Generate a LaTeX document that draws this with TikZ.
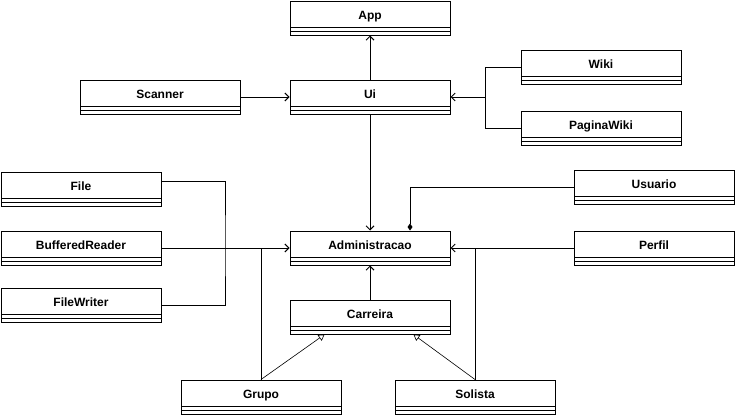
\documentclass[tikz,border=0pt]{standalone}
\usepackage{fontspec}
\setmainfont{Liberation Sans}
\usetikzlibrary{arrows.meta}

\begin{document}
\begin{tikzpicture}[x=1pt, y=-1pt, line width=1pt,
        klass/.style = {draw, minimum width=160pt, inner ysep=0pt, text height=18pt, text depth=16pt,
            font=\fontsize{12}{14}\selectfont\bfseries,
            path picture={\draw[line width=1pt]
                ([yshift=8pt]path picture bounding box.south west) -- ([yshift=8pt]path picture bounding box.south east)
                ([yshift=4pt]path picture bounding box.south west) -- ([yshift=4pt]path picture bounding box.south east);}},
        assoc/.style = {-{Straight Barb[length=4pt,width=8pt]}},
        gen/.style = {line width=0.6pt, -{Triangle[open,length=6pt,width=7pt]}},
        comp/.style = {-{Diamond[length=7pt,width=5pt]}}]
    \useasboundingbox (0,0) rectangle (735,415);
    \node[klass] (app) at (370,18) {App};
    \node[klass] (ui) at (370,97) {Ui};
    \node[klass] (scanner) at (160,97) {Scanner};
    \node[klass] (wiki) at (601,67) {Wiki};
    \node[klass] (paginawiki) at (601,128) {PaginaWiki};
    \node[klass] (file) at (81,189) {File};
    \node[klass] (bufferedreader) at (81,248) {BufferedReader};
    \node[klass] (filewriter) at (81,305) {FileWriter};
    \node[klass] (administracao) at (370,248) {Administracao};
    \node[klass] (usuario) at (654,187) {Usuario};
    \node[klass] (perfil) at (654,248) {Perfil};
    \node[klass] (carreira) at (370,317) {Carreira};
    \node[klass] (grupo) at (261,397) {Grupo};
    \node[klass] (solista) at (475,397) {Solista};
    \coordinate (wikijoin) at (485,97);
    \coordinate (filejoin) at (225,248);
    \draw[assoc] (ui) -- (app);
    \draw[assoc] (scanner) -- (ui);
    \draw (wiki.west) -| (wikijoin);
    \draw (paginawiki.west) -| (wikijoin);
    \draw[assoc] (wikijoin) -- (ui.east);
    \draw[assoc] (ui) -- (administracao);
    \draw[comp] (usuario.west) -| ([xshift=40pt]administracao.north);
    \draw ([yshift=8pt]file.east) -| (filejoin) |- (filewriter.east);
    \draw[assoc] (bufferedreader) -- (administracao);
    \draw (grupo.north) -- (grupo.north |- filejoin);
    \draw[assoc] (perfil) -- (administracao);
    \draw (solista.north) -- (solista.north |- perfil.west);
    \draw[assoc] (carreira) -- (administracao);
    \draw[gen] (grupo.north) -- ([xshift=35pt]carreira.south west);
    \draw[gen] (solista.north) -- ([xshift=124pt]carreira.south west);
\end{tikzpicture}
\end{document}
